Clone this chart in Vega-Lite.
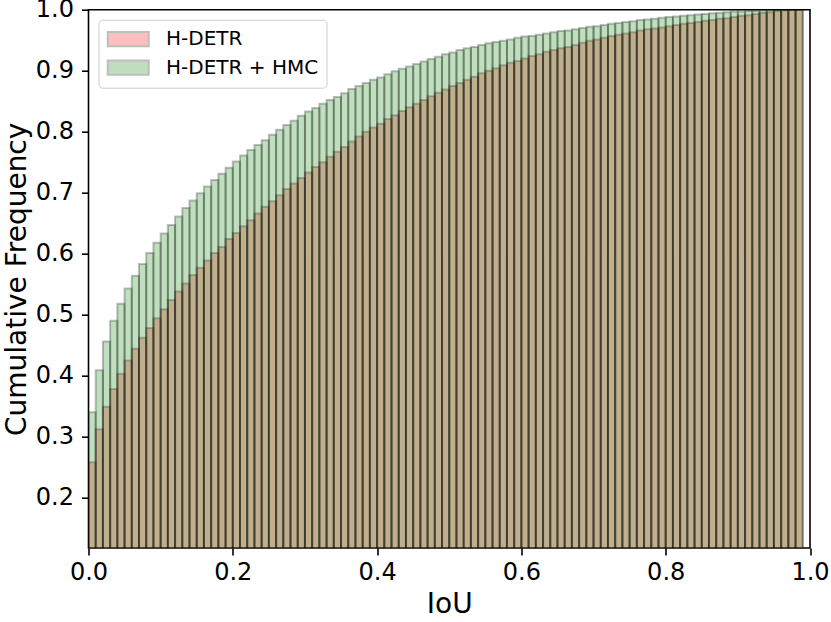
{
  "$schema": "https://vega.github.io/schema/vega-lite/v6.json",
  "width": 721.5,
  "height": 538.3,
  "autosize": "none",
  "padding": {"left": 88.5, "top": 9.7, "right": 21, "bottom": 74},
  "background": "white",
  "config": {
    "font": "DejaVu Sans",
    "view": {"stroke": "black", "strokeWidth": 1.6},
    "axis": {
      "grid": false,
      "domain": false,
      "labelFlush": false,
      "labelOverlap": false,
      "tickColor": "black",
      "tickWidth": 1.6,
      "tickSize": 7,
      "labelColor": "black",
      "labelFont": "DejaVu Sans",
      "labelFontSize": 24,
      "titleFont": "DejaVu Sans",
      "titleFontSize": 28,
      "titleFontWeight": "normal",
      "titleColor": "black"
    }
  },
  "data": {
    "values": [
      {"lo": 0.00, "hi": 0.01, "H-DETR": 0.258, "H-DETR + HMC": 0.340},
      {"lo": 0.01, "hi": 0.02, "H-DETR": 0.312, "H-DETR + HMC": 0.409},
      {"lo": 0.02, "hi": 0.03, "H-DETR": 0.349, "H-DETR + HMC": 0.456},
      {"lo": 0.03, "hi": 0.04, "H-DETR": 0.378, "H-DETR + HMC": 0.490},
      {"lo": 0.04, "hi": 0.05, "H-DETR": 0.403, "H-DETR + HMC": 0.518},
      {"lo": 0.05, "hi": 0.06, "H-DETR": 0.425, "H-DETR + HMC": 0.543},
      {"lo": 0.06, "hi": 0.07, "H-DETR": 0.444, "H-DETR + HMC": 0.564},
      {"lo": 0.07, "hi": 0.08, "H-DETR": 0.462, "H-DETR + HMC": 0.583},
      {"lo": 0.08, "hi": 0.09, "H-DETR": 0.478, "H-DETR + HMC": 0.601},
      {"lo": 0.09, "hi": 0.10, "H-DETR": 0.494, "H-DETR + HMC": 0.618},
      {"lo": 0.10, "hi": 0.11, "H-DETR": 0.509, "H-DETR + HMC": 0.633},
      {"lo": 0.11, "hi": 0.12, "H-DETR": 0.524, "H-DETR + HMC": 0.647},
      {"lo": 0.12, "hi": 0.13, "H-DETR": 0.538, "H-DETR + HMC": 0.661},
      {"lo": 0.13, "hi": 0.14, "H-DETR": 0.551, "H-DETR + HMC": 0.675},
      {"lo": 0.14, "hi": 0.15, "H-DETR": 0.565, "H-DETR + HMC": 0.687},
      {"lo": 0.15, "hi": 0.16, "H-DETR": 0.577, "H-DETR + HMC": 0.699},
      {"lo": 0.16, "hi": 0.17, "H-DETR": 0.589, "H-DETR + HMC": 0.710},
      {"lo": 0.17, "hi": 0.18, "H-DETR": 0.601, "H-DETR + HMC": 0.721},
      {"lo": 0.18, "hi": 0.19, "H-DETR": 0.611, "H-DETR + HMC": 0.731},
      {"lo": 0.19, "hi": 0.20, "H-DETR": 0.624, "H-DETR + HMC": 0.741},
      {"lo": 0.20, "hi": 0.21, "H-DETR": 0.634, "H-DETR + HMC": 0.751},
      {"lo": 0.21, "hi": 0.22, "H-DETR": 0.645, "H-DETR + HMC": 0.761},
      {"lo": 0.22, "hi": 0.23, "H-DETR": 0.655, "H-DETR + HMC": 0.770},
      {"lo": 0.23, "hi": 0.24, "H-DETR": 0.666, "H-DETR + HMC": 0.778},
      {"lo": 0.24, "hi": 0.25, "H-DETR": 0.677, "H-DETR + HMC": 0.786},
      {"lo": 0.25, "hi": 0.26, "H-DETR": 0.686, "H-DETR + HMC": 0.795},
      {"lo": 0.26, "hi": 0.27, "H-DETR": 0.696, "H-DETR + HMC": 0.803},
      {"lo": 0.27, "hi": 0.28, "H-DETR": 0.706, "H-DETR + HMC": 0.811},
      {"lo": 0.28, "hi": 0.29, "H-DETR": 0.715, "H-DETR + HMC": 0.818},
      {"lo": 0.29, "hi": 0.30, "H-DETR": 0.724, "H-DETR + HMC": 0.826},
      {"lo": 0.30, "hi": 0.31, "H-DETR": 0.733, "H-DETR + HMC": 0.833},
      {"lo": 0.31, "hi": 0.32, "H-DETR": 0.742, "H-DETR + HMC": 0.839},
      {"lo": 0.32, "hi": 0.33, "H-DETR": 0.750, "H-DETR + HMC": 0.846},
      {"lo": 0.33, "hi": 0.34, "H-DETR": 0.759, "H-DETR + HMC": 0.852},
      {"lo": 0.34, "hi": 0.35, "H-DETR": 0.767, "H-DETR + HMC": 0.857},
      {"lo": 0.35, "hi": 0.36, "H-DETR": 0.775, "H-DETR + HMC": 0.863},
      {"lo": 0.36, "hi": 0.37, "H-DETR": 0.784, "H-DETR + HMC": 0.870},
      {"lo": 0.37, "hi": 0.38, "H-DETR": 0.792, "H-DETR + HMC": 0.875},
      {"lo": 0.38, "hi": 0.39, "H-DETR": 0.800, "H-DETR + HMC": 0.880},
      {"lo": 0.39, "hi": 0.40, "H-DETR": 0.807, "H-DETR + HMC": 0.885},
      {"lo": 0.40, "hi": 0.41, "H-DETR": 0.813, "H-DETR + HMC": 0.889},
      {"lo": 0.41, "hi": 0.42, "H-DETR": 0.821, "H-DETR + HMC": 0.894},
      {"lo": 0.42, "hi": 0.43, "H-DETR": 0.827, "H-DETR + HMC": 0.899},
      {"lo": 0.43, "hi": 0.44, "H-DETR": 0.834, "H-DETR + HMC": 0.903},
      {"lo": 0.44, "hi": 0.45, "H-DETR": 0.840, "H-DETR + HMC": 0.907},
      {"lo": 0.45, "hi": 0.46, "H-DETR": 0.846, "H-DETR + HMC": 0.911},
      {"lo": 0.46, "hi": 0.47, "H-DETR": 0.852, "H-DETR + HMC": 0.915},
      {"lo": 0.47, "hi": 0.48, "H-DETR": 0.858, "H-DETR + HMC": 0.919},
      {"lo": 0.48, "hi": 0.49, "H-DETR": 0.864, "H-DETR + HMC": 0.923},
      {"lo": 0.49, "hi": 0.50, "H-DETR": 0.869, "H-DETR + HMC": 0.927},
      {"lo": 0.50, "hi": 0.51, "H-DETR": 0.875, "H-DETR + HMC": 0.930},
      {"lo": 0.51, "hi": 0.52, "H-DETR": 0.880, "H-DETR + HMC": 0.934},
      {"lo": 0.52, "hi": 0.53, "H-DETR": 0.885, "H-DETR + HMC": 0.937},
      {"lo": 0.53, "hi": 0.54, "H-DETR": 0.890, "H-DETR + HMC": 0.939},
      {"lo": 0.54, "hi": 0.55, "H-DETR": 0.896, "H-DETR + HMC": 0.942},
      {"lo": 0.55, "hi": 0.56, "H-DETR": 0.900, "H-DETR + HMC": 0.945},
      {"lo": 0.56, "hi": 0.57, "H-DETR": 0.904, "H-DETR + HMC": 0.947},
      {"lo": 0.57, "hi": 0.58, "H-DETR": 0.909, "H-DETR + HMC": 0.949},
      {"lo": 0.58, "hi": 0.59, "H-DETR": 0.913, "H-DETR + HMC": 0.951},
      {"lo": 0.59, "hi": 0.60, "H-DETR": 0.916, "H-DETR + HMC": 0.954},
      {"lo": 0.60, "hi": 0.61, "H-DETR": 0.920, "H-DETR + HMC": 0.956},
      {"lo": 0.61, "hi": 0.62, "H-DETR": 0.924, "H-DETR + HMC": 0.957},
      {"lo": 0.62, "hi": 0.63, "H-DETR": 0.927, "H-DETR + HMC": 0.959},
      {"lo": 0.63, "hi": 0.64, "H-DETR": 0.931, "H-DETR + HMC": 0.961},
      {"lo": 0.64, "hi": 0.65, "H-DETR": 0.934, "H-DETR + HMC": 0.963},
      {"lo": 0.65, "hi": 0.66, "H-DETR": 0.937, "H-DETR + HMC": 0.965},
      {"lo": 0.66, "hi": 0.67, "H-DETR": 0.939, "H-DETR + HMC": 0.966},
      {"lo": 0.67, "hi": 0.68, "H-DETR": 0.942, "H-DETR + HMC": 0.968},
      {"lo": 0.68, "hi": 0.69, "H-DETR": 0.946, "H-DETR + HMC": 0.970},
      {"lo": 0.69, "hi": 0.70, "H-DETR": 0.949, "H-DETR + HMC": 0.972},
      {"lo": 0.70, "hi": 0.71, "H-DETR": 0.951, "H-DETR + HMC": 0.973},
      {"lo": 0.71, "hi": 0.72, "H-DETR": 0.954, "H-DETR + HMC": 0.975},
      {"lo": 0.72, "hi": 0.73, "H-DETR": 0.957, "H-DETR + HMC": 0.977},
      {"lo": 0.73, "hi": 0.74, "H-DETR": 0.959, "H-DETR + HMC": 0.978},
      {"lo": 0.74, "hi": 0.75, "H-DETR": 0.961, "H-DETR + HMC": 0.980},
      {"lo": 0.75, "hi": 0.76, "H-DETR": 0.963, "H-DETR + HMC": 0.981},
      {"lo": 0.76, "hi": 0.77, "H-DETR": 0.966, "H-DETR + HMC": 0.983},
      {"lo": 0.77, "hi": 0.78, "H-DETR": 0.968, "H-DETR + HMC": 0.984},
      {"lo": 0.78, "hi": 0.79, "H-DETR": 0.969, "H-DETR + HMC": 0.985},
      {"lo": 0.79, "hi": 0.80, "H-DETR": 0.971, "H-DETR + HMC": 0.987},
      {"lo": 0.80, "hi": 0.81, "H-DETR": 0.973, "H-DETR + HMC": 0.988},
      {"lo": 0.81, "hi": 0.82, "H-DETR": 0.975, "H-DETR + HMC": 0.989},
      {"lo": 0.82, "hi": 0.83, "H-DETR": 0.977, "H-DETR + HMC": 0.990},
      {"lo": 0.83, "hi": 0.84, "H-DETR": 0.978, "H-DETR + HMC": 0.991},
      {"lo": 0.84, "hi": 0.85, "H-DETR": 0.980, "H-DETR + HMC": 0.992},
      {"lo": 0.85, "hi": 0.86, "H-DETR": 0.982, "H-DETR + HMC": 0.993},
      {"lo": 0.86, "hi": 0.87, "H-DETR": 0.983, "H-DETR + HMC": 0.994},
      {"lo": 0.87, "hi": 0.88, "H-DETR": 0.985, "H-DETR + HMC": 0.995},
      {"lo": 0.88, "hi": 0.89, "H-DETR": 0.986, "H-DETR + HMC": 0.996},
      {"lo": 0.89, "hi": 0.90, "H-DETR": 0.988, "H-DETR + HMC": 0.997},
      {"lo": 0.90, "hi": 0.91, "H-DETR": 0.990, "H-DETR + HMC": 0.997},
      {"lo": 0.91, "hi": 0.92, "H-DETR": 0.991, "H-DETR + HMC": 0.998},
      {"lo": 0.92, "hi": 0.93, "H-DETR": 0.993, "H-DETR + HMC": 0.998},
      {"lo": 0.93, "hi": 0.94, "H-DETR": 0.995, "H-DETR + HMC": 0.999},
      {"lo": 0.94, "hi": 0.95, "H-DETR": 0.996, "H-DETR + HMC": 0.999},
      {"lo": 0.95, "hi": 0.96, "H-DETR": 0.998, "H-DETR + HMC": 1.0},
      {"lo": 0.96, "hi": 0.97, "H-DETR": 0.999, "H-DETR + HMC": 1.0},
      {"lo": 0.97, "hi": 0.98, "H-DETR": 1.0, "H-DETR + HMC": 1.0},
      {"lo": 0.98, "hi": 0.99, "H-DETR": 1.0, "H-DETR + HMC": 1.0}
    ]
  },
  "transform": [
    {"fold": ["H-DETR", "H-DETR + HMC"], "as": ["model", "freq"]}
  ],
  "mark": {
    "type": "bar",
    "clip": true,
    "fillOpacity": 0.25,
    "stroke": "black",
    "strokeOpacity": 0.25,
    "strokeWidth": 2
  },
  "encoding": {
    "x": {
      "field": "lo",
      "type": "quantitative",
      "title": "IoU",
      "scale": {"domain": [0, 1], "nice": false},
      "axis": {
        "values": [0, 0.2, 0.4, 0.6, 0.8, 1.0],
        "format": ".1f",
        "labelPadding": 5,
        "titlePadding": 6
      }
    },
    "x2": {"field": "hi"},
    "y": {
      "field": "freq",
      "type": "quantitative",
      "stack": null,
      "title": "Cumulative Frequency",
      "scale": {"domain": [0.1175, 1.0], "nice": false, "zero": false},
      "axis": {
        "values": [0.2, 0.3, 0.4, 0.5, 0.6, 0.7, 0.8, 0.9, 1.0],
        "format": ".1f",
        "labelPadding": 8,
        "titlePadding": 4
      }
    },
    "y2": {"datum": 0},
    "color": {
      "field": "model",
      "type": "nominal",
      "scale": {"domain": ["H-DETR", "H-DETR + HMC"], "range": ["#ff0000", "#008000"]},
      "legend": {
        "title": null,
        "orient": "top-left",
        "offset": 9.5,
        "padding": 8,
        "fillColor": "rgba(255,255,255,0.8)",
        "strokeColor": "#cccccc",
        "cornerRadius": 4,
        "symbolType": "M-1,-0.7H3V0.7H-1Z",
        "symbolSize": 420,
        "symbolOpacity": 0.25,
        "symbolStrokeColor": "black",
        "symbolStrokeWidth": 2,
        "labelFont": "DejaVu Sans",
        "labelFontSize": 20,
        "labelColor": "black",
        "labelOffset": 36.5,
        "rowPadding": 5.5
      }
    }
  }
}
